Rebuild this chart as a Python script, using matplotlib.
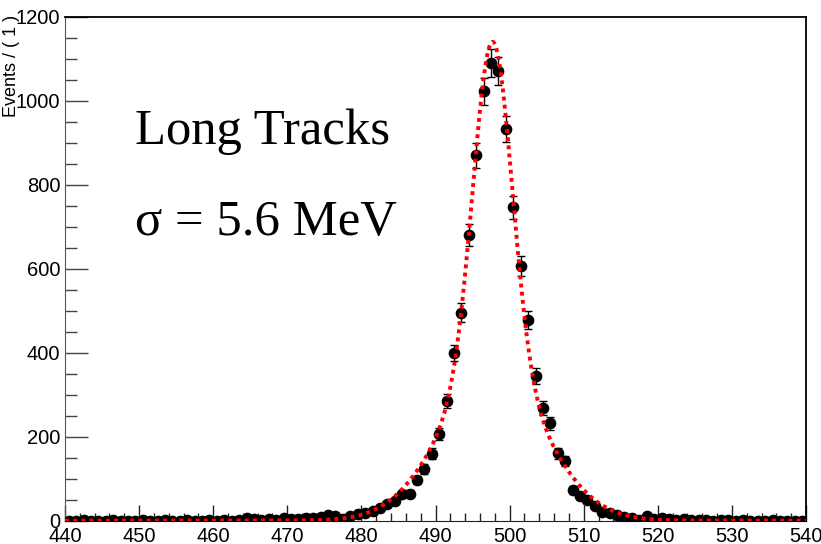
import numpy as np
import matplotlib
matplotlib.use("Agg")
import matplotlib.pyplot as plt
from matplotlib.ticker import MultipleLocator

# mass histogram, 1 MeV bins from 440 to 540
bin_lo = 440
bin_hi = 540
counts = [
    1, 0, 2, 1, 0, 1, 2, 1, 0, 1,          # 440-449
    2, 1, 1, 2, 0, 1, 2, 1, 1, 2,          # 450-459
    1, 2, 1, 3, 7, 4, 2, 5, 3, 6,          # 460-469
    5, 4, 6, 8, 10, 14, 12, 5, 12, 17,     # 470-479
    20, 24, 32, 40, 48, 64, 65, 98, 124, 160,        # 480-489
    207, 286, 400, 496, 681, 871, 1023, 1090, 1072, 933,  # 490-499
    747, 607, 479, 345, 270, 233, 161, 142, 74, 60,  # 500-509
    50, 36, 22, 18, 14, 10, 6, 2, 11, 5,   # 510-519
    6, 4, 3, 4, 2, 3, 2, 1, 3, 2,          # 520-529
    1, 2, 1, 0, 1, 2, 1, 0, 1, 1,          # 530-539
]

# double gaussian fit result
fit_mean = 497.7
fit_peak = 1140.0
fit_frac_core = 0.70
fit_sigma_core = 2.6
fit_sigma_wide = 7.0
fit_bkg = 1.0

counts = np.array(counts, dtype=float)
centers = np.arange(bin_lo, bin_hi) + 0.5
errors = np.sqrt(counts)


def fit_model(x):
    d = x - fit_mean
    core = fit_frac_core * np.exp(-d**2 / (2 * fit_sigma_core**2))
    wide = (1 - fit_frac_core) * np.exp(-d**2 / (2 * fit_sigma_wide**2))
    return fit_peak * (core + wide) + fit_bkg


plt.rcParams['font.family'] = ['Liberation Sans', 'DejaVu Sans']

fig = plt.figure(figsize=(8.21, 5.44), dpi=100)
ax = fig.add_axes([65 / 821, 1 - 521 / 544, (806 - 65) / 821, (521 - 17) / 544])

ax.errorbar(centers, counts, yerr=errors, fmt='o', color='black',
            markersize=7.4, elinewidth=1.0, capsize=3, capthick=1.0, zorder=3)

xfit = np.linspace(bin_lo, bin_hi, 1500)
ax.plot(xfit, fit_model(xfit), color='red', linewidth=2.8,
        linestyle=(0, (1.0, 1.1)), zorder=4)

ax.set_xlim(bin_lo, bin_hi)
ax.set_ylim(0, 1200)

ax.xaxis.set_major_locator(MultipleLocator(10))
ax.xaxis.set_minor_locator(MultipleLocator(2))
ax.yaxis.set_major_locator(MultipleLocator(200))
ax.yaxis.set_minor_locator(MultipleLocator(50))

ax.tick_params(axis='y', which='major', direction='in', length=16.3, width=1.0,
               color='#444444', labelsize=14.5, pad=3.5)
ax.tick_params(axis='y', which='minor', direction='in', length=8.4, width=1.0,
               color='#444444')
ax.tick_params(axis='x', which='major', direction='in', length=11.5, width=1.0,
               color='#222222', labelsize=14.5, pad=4)
ax.tick_params(axis='x', which='minor', direction='in', length=5.5, width=1.0,
               color='#222222')
ax.tick_params(right=False, top=False)

ax.spines['left'].set_color('#555555')
ax.spines['bottom'].set_color('#222222')
for side in ['top', 'right']:
    ax.spines[side].set_color('black')
    ax.spines[side].set_linewidth(1.3)

ax.set_ylabel('Events / ( 1 )', fontsize=13, loc='top')
ax.yaxis.set_label_coords(-0.061, 1.004)

ax.text(449.4, 898, 'Long Tracks', family=['Liberation Serif', 'DejaVu Serif'],
        fontsize=36.5, va='baseline', ha='left')
ax.text(449.4, 681, 'σ = 5.6 MeV', family=['Liberation Serif', 'DejaVu Serif'],
        fontsize=36.5, va='baseline', ha='left')

fig.savefig('out.png', dpi=100)
